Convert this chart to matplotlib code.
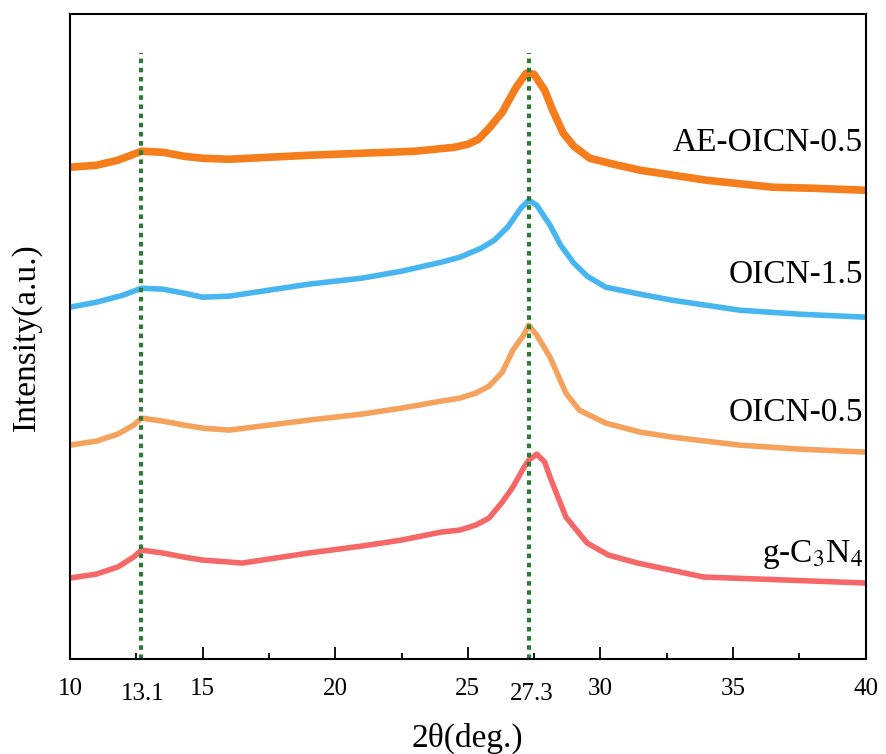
import matplotlib.pyplot as plt
from matplotlib.ticker import MultipleLocator
import matplotlib.transforms as mtransforms

plt.rcParams['font.family'] = 'Liberation Serif'
plt.rcParams['mathtext.fontset'] = 'stix'

# 2theta positions (deg) and intensity (a.u., stacked offsets as drawn)
x_ae = [10.0, 11.0, 11.8, 12.4, 12.7, 13.5, 14.3, 15.0, 16.0, 17.5, 19.0, 21.0, 23.0, 24.5, 25.0,
        25.4, 25.8, 26.3, 26.8, 27.2, 27.5, 27.9, 28.2, 28.6, 29.0, 29.6, 30.5, 31.5, 33.0, 34.0,
        36.5, 38.0, 40.0]
y_ae = [492, 494, 499, 505, 508, 507, 503, 501, 500, 502, 504, 506, 508, 512, 515,
        520, 531, 547, 571, 586, 585, 569, 549, 526, 513, 501, 495, 489, 483, 479,
        472, 471, 469]

x_15 = [10.0, 11.0, 12.0, 12.7, 13.5, 14.3, 15.0, 16.0, 17.5, 19.0, 21.0, 22.5, 24.0, 24.7, 25.5,
        26.0, 26.5, 27.0, 27.3, 27.6, 28.1, 28.5, 29.0, 29.5, 30.2, 31.5, 32.7, 35.25, 37.5, 40.0]
y_15 = [352, 357, 364, 371, 370, 366, 362, 363, 369, 375, 381, 388, 397, 402, 411,
        419, 432, 451, 459, 454, 434, 414, 396, 383, 372, 365, 359, 349, 345, 342]

x_05 = [10.0, 11.0, 11.8, 12.4, 12.7, 13.5, 14.3, 15.0, 16.0, 17.5, 19.0, 21.0, 22.5, 24.0, 24.7,
        25.3, 25.8, 26.3, 26.7, 27.1, 27.3, 27.6, 28.1, 28.7, 29.2, 30.2, 31.5, 32.7, 35.25, 37.5, 40.0]
y_05 = [214, 218, 225, 234, 241, 238, 234, 231, 229, 234, 239, 245, 251, 258, 261,
        266, 273, 287, 309, 324, 334, 324, 302, 266, 249, 236, 227, 222, 214, 210, 207]

x_cn = [10.0, 11.0, 11.8, 12.4, 12.7, 13.5, 14.3, 15.0, 16.5, 19.0, 21.0, 22.5, 24.0, 24.7, 25.3,
        25.8, 26.3, 26.7, 27.1, 27.3, 27.6, 27.9, 28.1, 28.4, 28.7, 29.5, 30.3, 31.4, 33.9, 37.0, 40.0]
y_cn = [81, 85, 92, 102, 109, 106, 102, 99, 96, 106, 113, 119, 127, 129, 134,
        141, 157, 172, 191, 199, 205, 197, 182, 162, 142, 116, 104, 96, 82, 79, 76]

names = ['AE-OICN-0.5', 'OICN-1.5', 'OICN-0.5', r'g-C$_3$N$_4$']
colors = ['#f57d1c', '#47b5f0', '#f4a25c', '#f66767']
label_y = [517, 384, 246, 105]
ref_lines = [12.68, 27.32]
ref_labels = ['13.1', '27.3']

fig = plt.figure(figsize=(8.86, 7.54), dpi=100)
ax = fig.add_axes([0.079, 0.126, 0.898, 0.855])

ax.plot(x_cn, y_cn, color=colors[3], lw=4)
ax.plot(x_05, y_05, color=colors[2], lw=4)
ax.plot(x_15, y_15, color=colors[1], lw=4)
ax.plot(x_ae, y_ae, color=colors[0], lw=5.5)

for xv in ref_lines:
    ax.vlines(xv, 0, 606, colors='#2e7a34', linestyles=(0, (1.1, 1.1)), lw=3)

for name, c, ly in zip(names, colors, label_y):
    ax.text(39.9, ly, name, ha='right', va='center', fontsize=24)

ax.set_xlim(10, 40)
ax.set_ylim(0, 645)
ax.set_xticks([10, 15, 20, 25, 30, 35, 40])
ax.xaxis.set_minor_locator(MultipleLocator(2.5))
ax.tick_params(axis='x', which='major', direction='in', length=9, width=1.3, labelsize=18, pad=14)
ax.tick_params(axis='x', which='minor', direction='in', length=4.5, width=1.3)
ax.set_yticks([])
trans = mtransforms.blended_transform_factory(ax.transData, ax.transAxes)
for xv, lab in zip(ref_lines, ref_labels):
    ax.text(xv + 0.08, -0.055, lab, transform=trans, ha='center', va='center', fontsize=18)

for s in ax.spines.values():
    s.set_linewidth(1.5)

ax.set_xlabel('2θ(deg.)', fontsize=24, labelpad=16)
ax.set_ylabel('Intensity(a.u.)', fontsize=24, labelpad=20)

fig.savefig('out.png', dpi=100)
